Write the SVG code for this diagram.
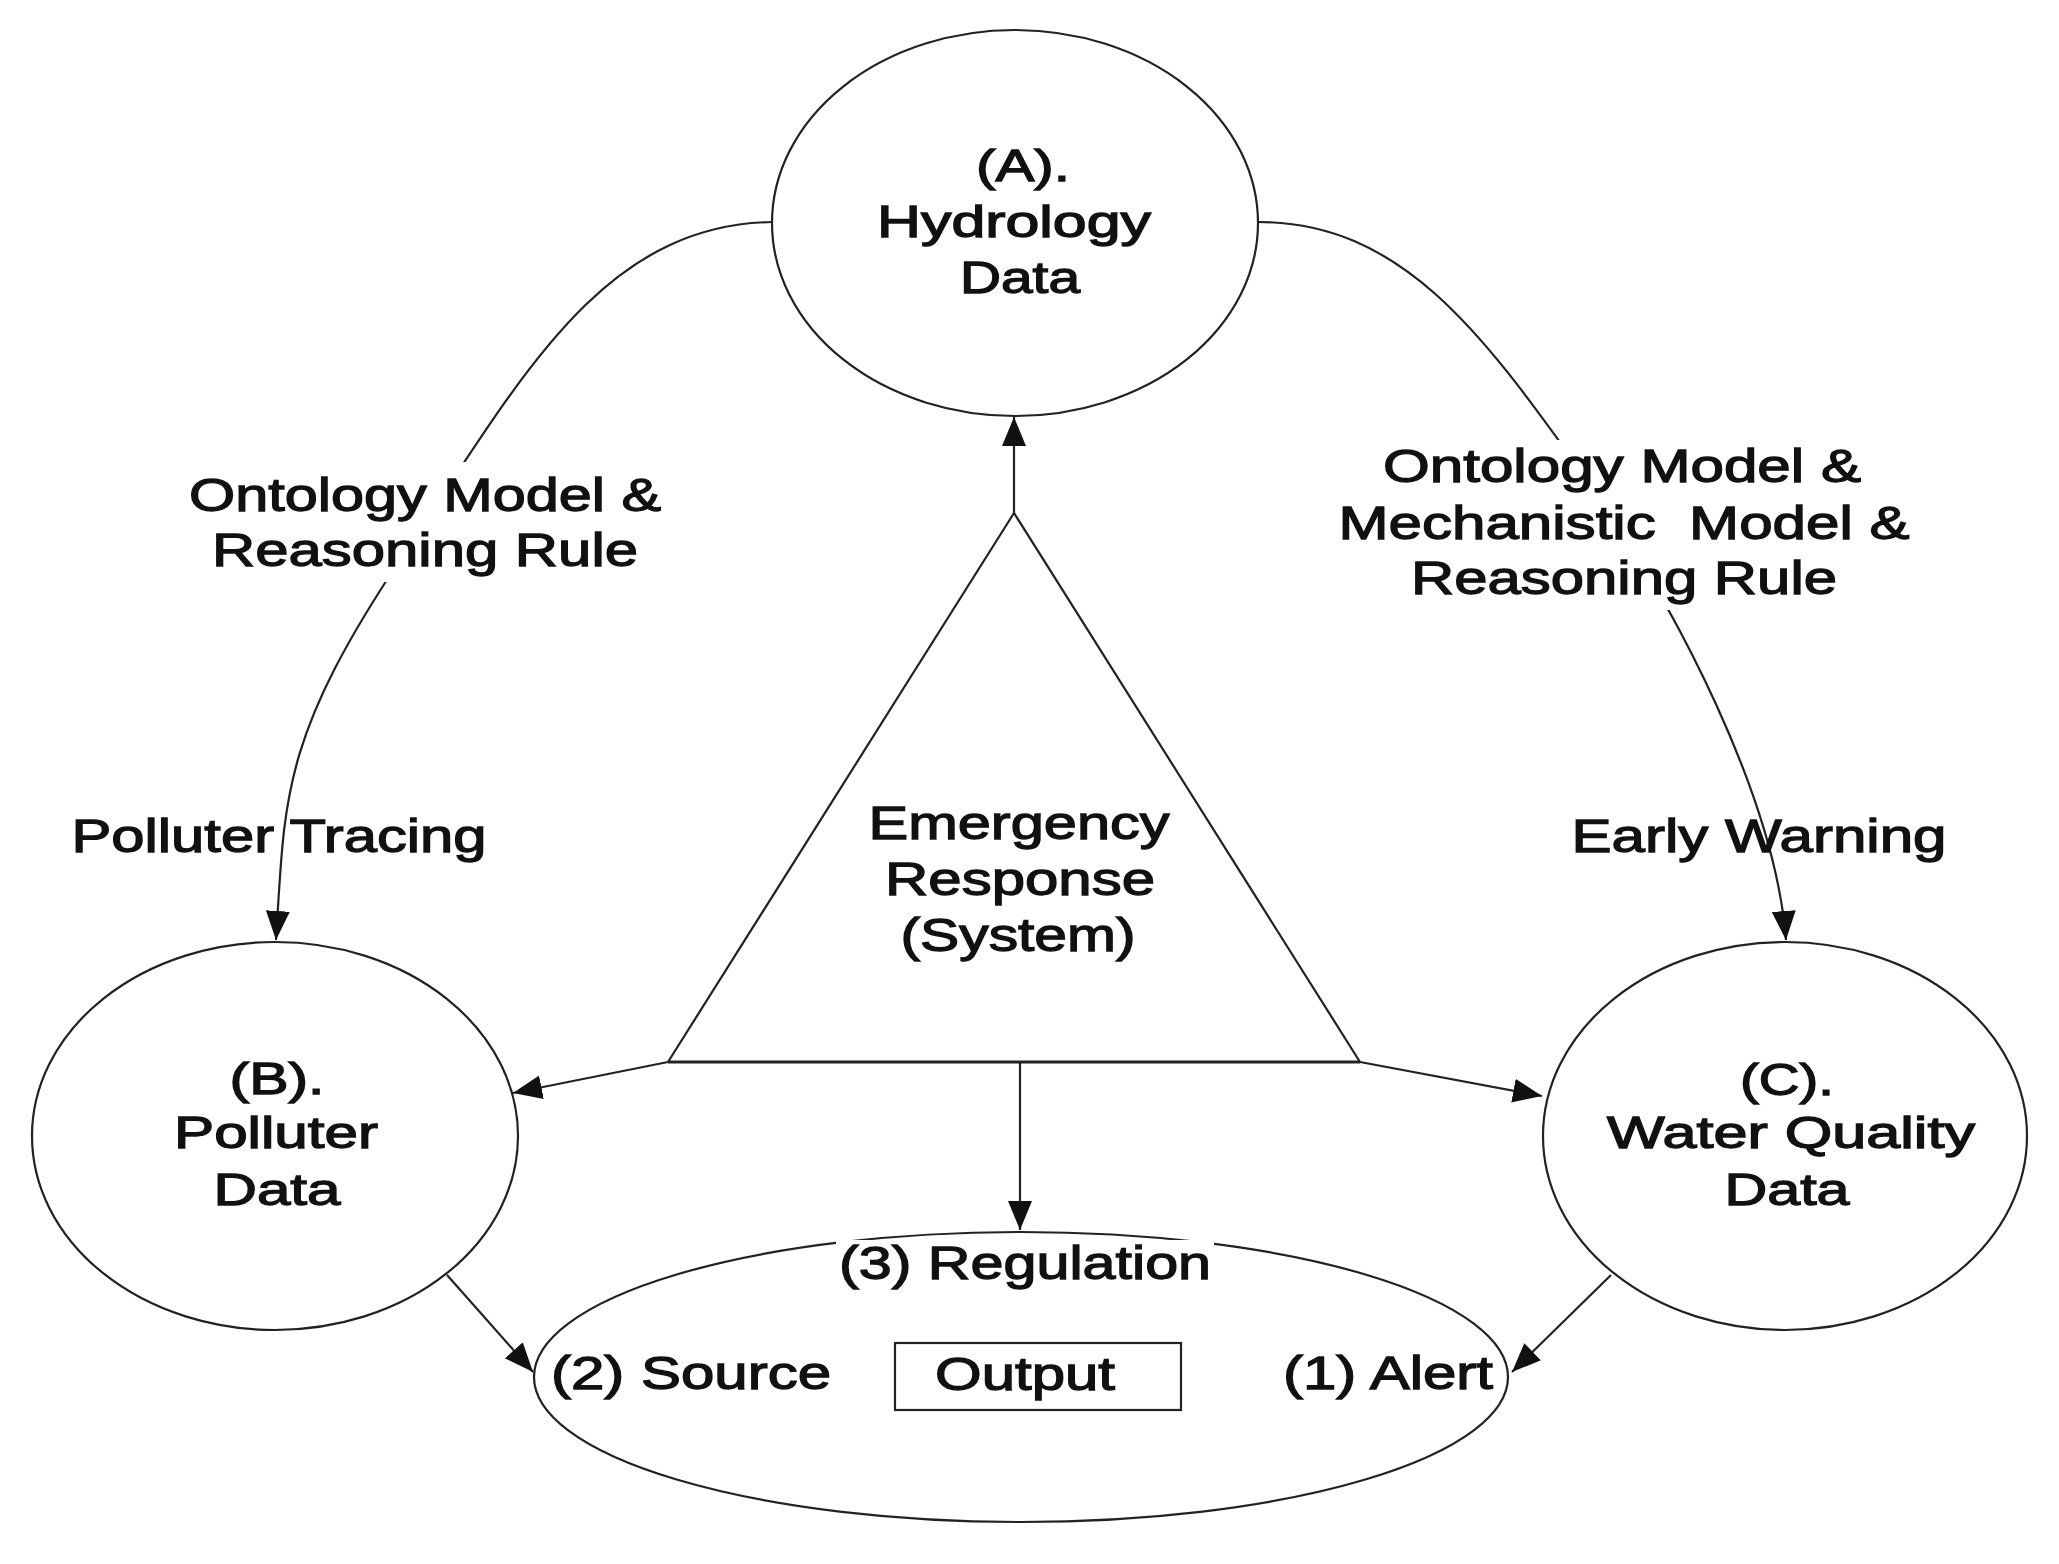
<svg xmlns="http://www.w3.org/2000/svg" width="2059" height="1564" viewBox="0 0 2059 1564">
<style>
.shape{fill:#fff;stroke:#222;stroke-width:2.2}
.line{fill:none;stroke:#222;stroke-width:2.2}
.t{font-family:"Liberation Sans",Arial,sans-serif;font-size:47px;fill:#111;stroke:#111;stroke-width:1.3;text-anchor:middle}
.n{font-size:44px}
.bg{fill:#fff;stroke:none}
</style>
<defs>
<marker id="arr" markerUnits="userSpaceOnUse" markerWidth="30" markerHeight="26" refX="29" refY="12" orient="auto">
<path d="M0,0 L29,12 L0,24 z" fill="#111"/>
</marker>
</defs>
<rect x="0" y="0" width="2059" height="1564" fill="#fff"/>

<g id="connectors">
<path class="line" d="M772,222 C600,225 520,380 400,560 S285,800 276,940" marker-end="url(#arr)"/>
<path class="line" d="M1258,222 C1400,222 1480,330 1580,470 S1775,800 1786,940" marker-end="url(#arr)"/>
<line class="line" x1="1014" y1="513" x2="1014" y2="417" marker-end="url(#arr)"/>
<polyline class="line" points="668,1062 1014,513 1360,1062"/>
<line class="line" x1="668" y1="1062" x2="1360" y2="1062" style="stroke-width:2.8"/>
<line class="line" x1="668" y1="1062" x2="513" y2="1093" marker-end="url(#arr)"/>
<line class="line" x1="1360" y1="1062" x2="1542" y2="1096" marker-end="url(#arr)"/>
<line class="line" x1="1020" y1="1062" x2="1020" y2="1230" marker-end="url(#arr)"/>
<line class="line" x1="447" y1="1275" x2="533" y2="1372" marker-end="url(#arr)"/>
<line class="line" x1="1611" y1="1275" x2="1512" y2="1372" marker-end="url(#arr)"/>
</g>

<g id="labels">
<rect class="bg" x="180" y="462" width="492" height="120"/>
<text class="t" x="425" y="511" textLength="472" lengthAdjust="spacingAndGlyphs">Ontology Model &amp;</text>
<text class="t" x="425" y="566" textLength="426" lengthAdjust="spacingAndGlyphs">Reasoning Rule</text>
<rect class="bg" x="1330" y="440" width="592" height="170"/>
<text class="t" x="1622" y="482" textLength="478" lengthAdjust="spacingAndGlyphs">Ontology Model &amp;</text>
<text class="t" x="1624" y="539" textLength="571" lengthAdjust="spacingAndGlyphs" xml:space="preserve">Mechanistic  Model &amp;</text>
<text class="t" x="1624" y="594" textLength="426" lengthAdjust="spacingAndGlyphs">Reasoning Rule</text>
<text class="t" x="279" y="852" textLength="415" lengthAdjust="spacingAndGlyphs">Polluter Tracing</text>
<text class="t" x="1759" y="852" textLength="375" lengthAdjust="spacingAndGlyphs">Early Warning</text>
</g>

<g id="node-emergency">
<text class="t" x="1019" y="839" textLength="301" lengthAdjust="spacingAndGlyphs">Emergency</text>
<text class="t" x="1020" y="895" textLength="270" lengthAdjust="spacingAndGlyphs">Response</text>
<text class="t" x="1018" y="951" textLength="235" lengthAdjust="spacingAndGlyphs">(System)</text>
</g>

<g id="node-a">
<ellipse class="shape" cx="1015" cy="223" rx="243" ry="193"/>
<text class="t n" x="1023" y="181" textLength="94" lengthAdjust="spacingAndGlyphs">(A).</text>
<text class="t n" x="1014" y="237" textLength="274" lengthAdjust="spacingAndGlyphs">Hydrology</text>
<text class="t n" x="1020" y="293" textLength="120" lengthAdjust="spacingAndGlyphs">Data</text>
</g>

<g id="node-b">
<ellipse class="shape" cx="275" cy="1136" rx="243" ry="194"/>
<text class="t n" x="277" y="1094" textLength="95" lengthAdjust="spacingAndGlyphs">(B).</text>
<text class="t n" x="276" y="1148" textLength="204" lengthAdjust="spacingAndGlyphs">Polluter</text>
<text class="t n" x="277" y="1205" textLength="127" lengthAdjust="spacingAndGlyphs">Data</text>
</g>

<g id="node-c">
<ellipse class="shape" cx="1785" cy="1136" rx="242" ry="194"/>
<text class="t n" x="1787" y="1095" textLength="94" lengthAdjust="spacingAndGlyphs">(C).</text>
<text class="t n" x="1791" y="1148" textLength="368" lengthAdjust="spacingAndGlyphs">Water Quality</text>
<text class="t n" x="1787" y="1205" textLength="125" lengthAdjust="spacingAndGlyphs">Data</text>
</g>

<g id="node-output">
<ellipse class="shape" cx="1021" cy="1377" rx="487" ry="145"/>
<rect class="bg" x="836" y="1240" width="378" height="56"/>
<text class="t" x="1025" y="1279" textLength="372" lengthAdjust="spacingAndGlyphs">(3) Regulation</text>
<text class="t" x="691" y="1389" textLength="280" lengthAdjust="spacingAndGlyphs">(2) Source</text>
<rect class="shape" x="895" y="1343" width="286" height="67"/>
<text class="t" x="1025" y="1390" textLength="180" lengthAdjust="spacingAndGlyphs">Output</text>
<text class="t" x="1388" y="1389" textLength="210" lengthAdjust="spacingAndGlyphs">(1) Alert</text>
</g>
</svg>
